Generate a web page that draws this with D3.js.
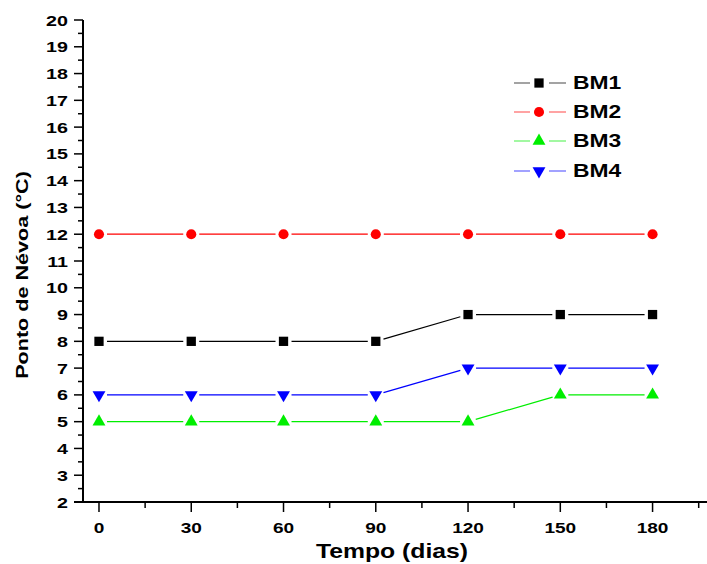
<!DOCTYPE html>
<html><head><meta charset="utf-8">
<script src="https://cdn.jsdelivr.net/npm/d3@7"></script>
<style>body{margin:0;background:#fff}svg{display:block}text{font-family:"Liberation Sans",Arial,sans-serif;font-weight:bold}</style>
</head><body>
<svg id="c" width="707" height="564"></svg>
<script>
const days = [0, 30, 60, 90, 120, 150, 180];
const bm1 = [8, 8, 8, 8, 9, 9, 9];
const bm2 = [12, 12, 12, 12, 12, 12, 12];
const bm3 = [5, 5, 5, 5, 5, 6, 6];
const bm4 = [6, 6, 6, 6, 7, 7, 7];
const seriesNames = ["BM1", "BM2", "BM3", "BM4"];
const xTicks = [0, 30, 60, 90, 120, 150, 180];
const yTicks = d3.range(2, 21, 1);

const series = [
  {name: "BM1", values: bm1, color: "#000000", sym: d3.symbolSquare, size: 86, rot: 0},
  {name: "BM2", values: bm2, color: "#ff0000", sym: d3.symbolCircle, size: 80, rot: 0},
  {name: "BM3", values: bm3, color: "#00ee00", sym: d3.symbolTriangle, size: 72, rot: 0},
  {name: "BM4", values: bm4, color: "#0000ff", sym: d3.symbolTriangle, size: 72, rot: 180}
];

const svg = d3.select("#c");
const x = d3.scaleLinear().domain([-5.2, 197.7]).range([83, 707]);
const y = d3.scaleLinear().domain([2, 20]).range([502, 20]);
const SX = 1.27;

function label(parent, px, py, str, size, anchor, rot) {
  parent.append("text")
    .attr("transform", `translate(${px},${py})${rot ? " rotate(" + rot + ")" : ""} scale(${SX},1)`)
    .attr("dy", "0.36em").attr("text-anchor", anchor).attr("font-size", size).text(str);
}

// Y axis
const gy = svg.append("g");
gy.append("line").attr("x1", 83).attr("x2", 83).attr("y1", y(20)).attr("y2", y(2)).attr("stroke", "#000").attr("stroke-width", 2);
yTicks.forEach(v => {
  gy.append("line").attr("x1", 74).attr("x2", 83).attr("y1", y(v)).attr("y2", y(v)).attr("stroke", "#000").attr("stroke-width", 1.5);
  label(gy, 68, y(v), v, 15.5, "end");
});
d3.range(2.5, 20, 1).forEach(v => {
  gy.append("line").attr("x1", 78).attr("x2", 83).attr("y1", y(v)).attr("y2", y(v)).attr("stroke", "#000").attr("stroke-width", 1.5);
});

// X axis
const gx = svg.append("g");
gx.append("line").attr("x1", 74).attr("x2", 707).attr("y1", 502).attr("y2", 502).attr("stroke", "#000").attr("stroke-width", 2);
xTicks.forEach(v => {
  gx.append("line").attr("x1", x(v)).attr("x2", x(v)).attr("y1", 502).attr("y2", 512).attr("stroke", "#000").attr("stroke-width", 1.5);
  label(gx, x(v), 528, v, 15, "middle");
});
[15, 45, 75, 105, 135, 165, 195].forEach(v => {
  gx.append("line").attr("x1", x(v)).attr("x2", x(v)).attr("y1", 502).attr("y2", 508).attr("stroke", "#000").attr("stroke-width", 1.5);
});

// Axis titles
label(svg, 392, 551, "Tempo (dias)", 19.5, "middle");
label(svg, 22, 275, "Ponto de Névoa (°C)", 17, "middle", -90);

// Series
const gap = 8;
series.forEach(s => {
  const g = svg.append("g");
  for (let i = 0; i < days.length - 1; i++) {
    const x1 = x(days[i]), y1 = y(s.values[i]), x2 = x(days[i + 1]), y2 = y(s.values[i + 1]);
    const len = Math.hypot(x2 - x1, y2 - y1), ux = (x2 - x1) / len, uy = (y2 - y1) / len;
    g.append("line").attr("x1", x1 + ux * gap).attr("y1", y1 + uy * gap).attr("x2", x2 - ux * gap).attr("y2", y2 - uy * gap)
      .attr("stroke", s.color).attr("stroke-width", 1.2);
  }
  days.forEach((d, i) => {
    g.append("path").attr("d", d3.symbol().type(s.sym).size(s.size)())
      .attr("transform", `translate(${x(d)},${y(s.values[i])}) rotate(${s.rot})`).attr("fill", s.color);
  });
});

// Legend
const legY = [83, 112, 141, 171];
series.forEach((s, i) => {
  const g = svg.append("g");
  g.append("line").attr("x1", 514).attr("x2", 530).attr("y1", legY[i]).attr("y2", legY[i]).attr("stroke", s.color).attr("stroke-width", 1.2).attr("opacity", 0.6);
  g.append("line").attr("x1", 549).attr("x2", 566).attr("y1", legY[i]).attr("y2", legY[i]).attr("stroke", s.color).attr("stroke-width", 1.2).attr("opacity", 0.6);
  g.append("path").attr("d", d3.symbol().type(s.sym).size(s.size)())
    .attr("transform", `translate(539,${legY[i]}) rotate(${s.rot})`).attr("fill", s.color);
  label(g, 573, legY[i], seriesNames[i], 18, "start");
});
</script>
</body></html>
